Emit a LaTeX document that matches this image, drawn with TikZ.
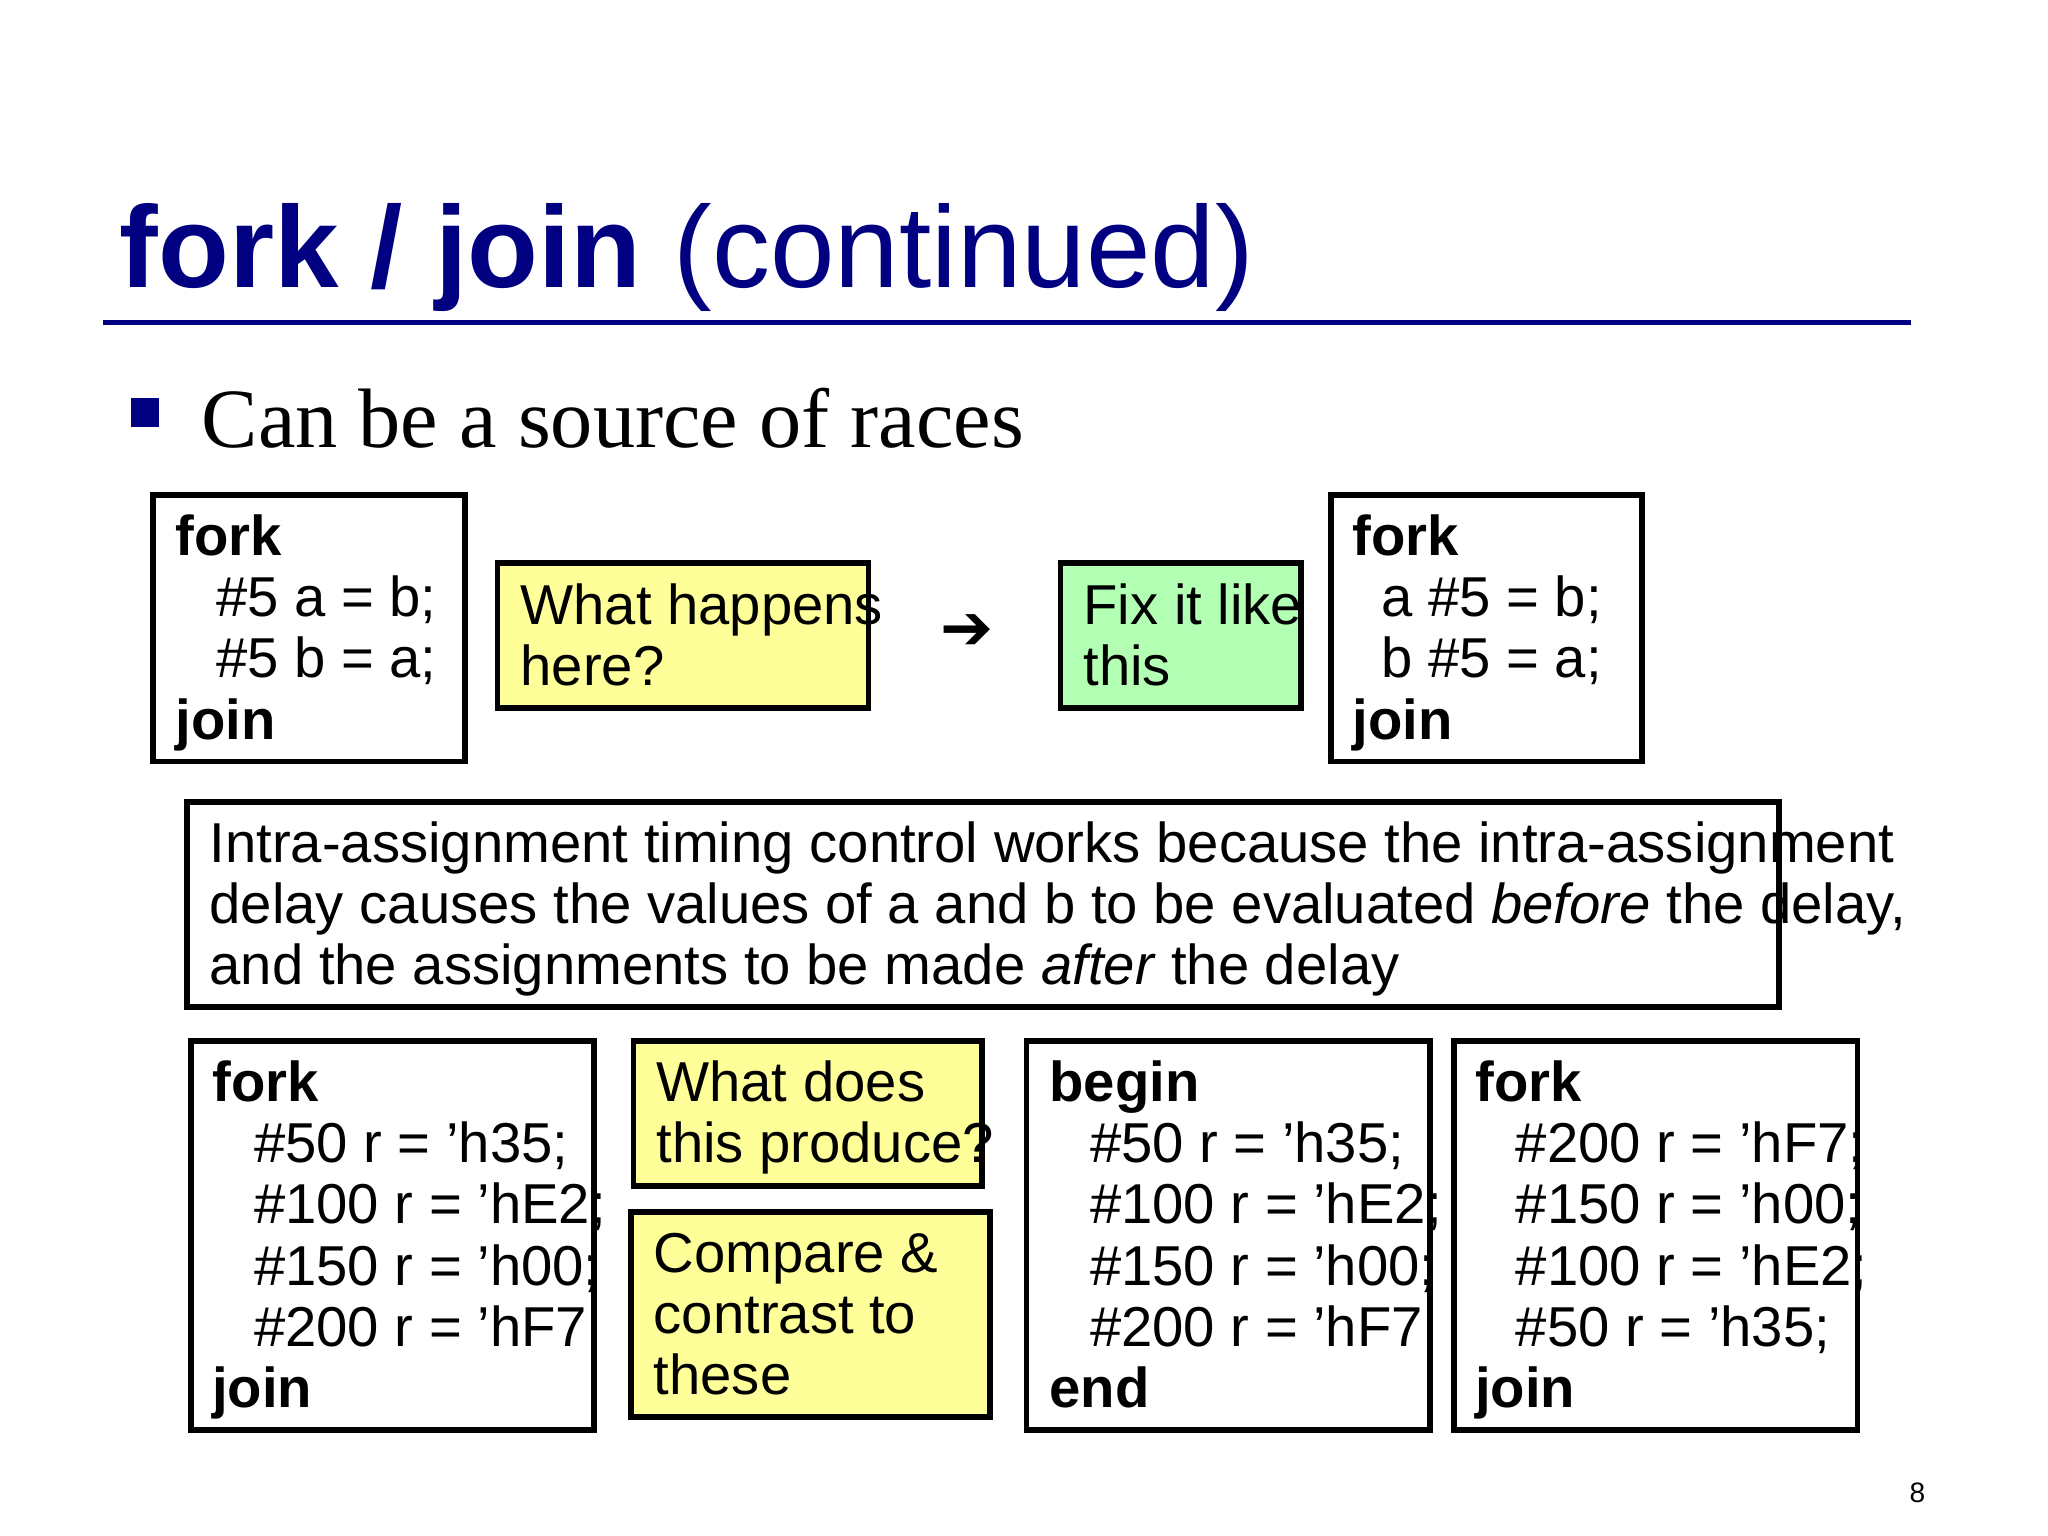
\documentclass[tikz,border=0pt]{standalone}
\usepackage{fontspec}
\setmainfont{Liberation Sans}
\newfontfamily\serifx{Liberation Serif}
\newfontfamily\symx{DejaVu Sans}
\definecolor{navy}{RGB}{0,0,128}
\definecolor{yel}{RGB}{255,255,153}
\definecolor{grn}{RGB}{179,255,179}
\begin{document}
\begin{tikzpicture}[x=0.013061cm,y=-0.013061cm,
  box/.style={draw=black,line width=1.6pt},
  tx/.style={anchor=base west,inner sep=0pt,font=\fontsize{16}{19}\selectfont}]
\useasboundingbox (0,0) rectangle (1568,1176);
% title
\node[anchor=base west,inner sep=0pt,text=navy,font=\fontsize{33}{38}\selectfont] (title) at (91,220) {\textbf{fork / join} (continued)};
\draw[navy,line width=1.6pt] (79,247) coordinate (tl) -- (1463,247) coordinate (tr);
\fill[navy] (100,305) rectangle (122,327);
\node[anchor=base west,inner sep=0pt,font=\serifx\fontsize{24}{28}\selectfont] (bul) at (154,343) {Can be a source of races};
% top row
\draw[box] (117,379) rectangle (356,583);
\node[tx] (a1) at (134,425) {\textbf{fork}};
\node[tx] (a2) at (165,472) {\#5 a = b;};
\node[tx] (a3) at (165,519) {\#5 b = a;};
\node[tx] (a4) at (134,566) {\textbf{join}};
\draw[box,fill=yel] (381,431) rectangle (665,542);
\node[tx] (y1) at (398,478) {What happens};
\node[tx] (y2) at (398,525) {here?};
\node[inner sep=0pt,font=\symx\fontsize{18}{20}\selectfont] (arr) at (740,484) {➔};
\draw[box,fill=grn] (812,431) rectangle (996,542);
\node[tx] (g1) at (829,478) {Fix it like};
\node[tx] (g2) at (829,525) {this};
\draw[box] (1019,379) rectangle (1257,583);
\node[tx] (b1) at (1035,425) {\textbf{fork}};
\node[tx] (b2) at (1057,472) {a \#5 = b;};
\node[tx] (b3) at (1057,519) {b \#5 = a;};
\node[tx] (b4) at (1035,566) {\textbf{join}};
% wide box
\draw[box] (143,614) rectangle (1362,771);
\node[tx] (w1) at (160,660) {Intra-assignment timing control works because the intra-assignment};
\node[tx] (w2) at (160,707) {delay causes the values of a and b to be evaluated \textit{before} the delay,};
\node[tx] (w3) at (160,754) {and the assignments to be made \textit{after} the delay};
% bottom row
\draw[box] (146,797) rectangle (455,1095);
\node[tx] (c1) at (162,843) {\textbf{fork}};
\node[tx] (c2) at (194,890) {\#50 r = ’h35;};
\node[tx] (c3) at (194,937) {\#100 r = ’hE2;};
\node[tx] (c4) at (194,984) {\#150 r = ’h00;};
\node[tx] (c5) at (194,1031) {\#200 r = ’hF7;};
\node[tx] (c6) at (162,1078) {\textbf{join}};
\draw[box,fill=yel] (485,797) rectangle (752,908);
\node[tx] (q1) at (502,843) {What does};
\node[tx] (q2) at (502,890) {this produce?};
\draw[box,fill=yel] (483,928) rectangle (758,1085);
\node[tx] (p1) at (500,974) {Compare \&};
\node[tx] (p2) at (500,1021) {contrast to};
\node[tx] (p3) at (500,1068) {these};
\draw[box] (786,797) rectangle (1095,1095);
\node[tx] (d1) at (803,843) {\textbf{begin}};
\node[tx] (d2) at (834,890) {\#50 r = ’h35;};
\node[tx] (d3) at (834,937) {\#100 r = ’hE2;};
\node[tx] (d4) at (834,984) {\#150 r = ’h00;};
\node[tx] (d5) at (834,1031) {\#200 r = ’hF7;};
\node[tx] (d6) at (803,1078) {\textbf{end}};
\draw[box] (1113,797) rectangle (1422,1095);
\node[tx] (e1) at (1129,843) {\textbf{fork}};
\node[tx] (e2) at (1160,890) {\#200 r = ’hF7;};
\node[tx] (e3) at (1160,937) {\#150 r = ’h00;};
\node[tx] (e4) at (1160,984) {\#100 r = ’hE2;};
\node[tx] (e5) at (1160,1031) {\#50 r = ’h35;};
\node[tx] (e6) at (1129,1078) {\textbf{join}};
\node[anchor=base,inner sep=0pt,font=\fontsize{8}{9}\selectfont] (pg) at (1468,1150) {8};
\end{tikzpicture}
\end{document}
